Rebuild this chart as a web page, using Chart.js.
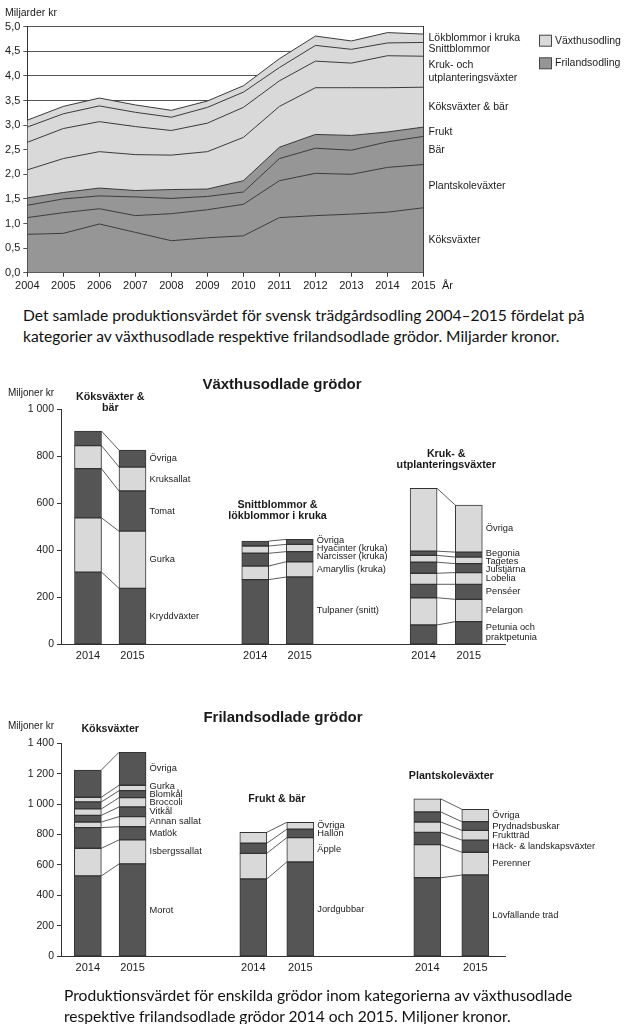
<!DOCTYPE html>
<html>
<head>
<meta charset="utf-8">
<title>Trädgårdsodling</title>
<script src="https://cdn.jsdelivr.net/npm/chart.js@4.4.0/dist/chart.umd.min.js"></script>
<style>
body { margin: 0; background: #fff; width: 627px; height: 1024px; position: relative; overflow: hidden; }
canvas { position: absolute; left: 0; }
.caption { position: absolute; margin: 0; font-family: Lato, 'Open Sans', sans-serif; font-size: 15.6px; line-height: 21px; color: #111; white-space: nowrap; }
</style>
</head>
<body>
<canvas id="areaChart" width="627" height="300" style="top:0"></canvas>
<p class="caption" style="left:23px;top:305px">Det samlade produktionsvärdet för svensk trädgårdsodling 2004–2015 fördelat på<br>kategorier av växthusodlade respektive frilandsodlade grödor. Miljarder kronor.</p>

<canvas id="vAxis" width="627" height="300" style="top:370px"></canvas>
<canvas id="vKoks" width="627" height="300" style="top:370px"></canvas>
<canvas id="vSnitt" width="627" height="300" style="top:370px"></canvas>
<canvas id="vKruk" width="627" height="300" style="top:370px"></canvas>

<canvas id="fAxis" width="627" height="280" style="top:700px"></canvas>
<canvas id="fKoks" width="627" height="280" style="top:700px"></canvas>
<canvas id="fFrukt" width="627" height="280" style="top:700px"></canvas>
<canvas id="fPlant" width="627" height="280" style="top:700px"></canvas>
<p class="caption" style="left:64px;top:985px">Produktionsvärdet för enskilda grödor inom kategorierna av växthusodlade<br>respektive frilandsodlade grödor 2014 och 2015. Miljoner kronor.</p>

<script>
// --- tidsserie 2004-2015, miljarder kr (varje kategori för sig, staplas i diagrammet)
var years = ['2004', '2005', '2006', '2007', '2008', '2009', '2010', '2011', '2012', '2013', '2014', '2015'];
var koksvaxterFriland = [0.78, 0.80, 0.99, 0.82, 0.65, 0.71, 0.75, 1.12, 1.16, 1.19, 1.23, 1.32];
var plantskolevaxter = [0.34, 0.42, 0.31, 0.34, 0.55, 0.57, 0.64, 0.75, 0.86, 0.81, 0.91, 0.88];
var barFriland = [0.25, 0.28, 0.26, 0.38, 0.31, 0.27, 0.25, 0.45, 0.51, 0.49, 0.52, 0.57];
var fruktFriland = [0.15, 0.13, 0.16, 0.13, 0.18, 0.15, 0.23, 0.23, 0.28, 0.30, 0.20, 0.19];
var koksvaxterBar = [0.57, 0.69, 0.74, 0.73, 0.70, 0.76, 0.88, 0.83, 0.95, 0.97, 0.90, 0.81];
var krukUtplantering = [0.56, 0.61, 0.61, 0.57, 0.50, 0.58, 0.61, 0.52, 0.54, 0.50, 0.65, 0.63];
var snittblommor = [0.31, 0.30, 0.32, 0.29, 0.27, 0.32, 0.31, 0.27, 0.32, 0.28, 0.26, 0.28];
var lokblommorKruka = [0.14, 0.15, 0.16, 0.15, 0.14, 0.13, 0.13, 0.18, 0.19, 0.17, 0.21, 0.17];
var yTicksMiljarder = [0, 0.5, 1, 1.5, 2, 2.5, 3, 3.5, 4, 4.5, 5];

// --- enskilda grödor 2014 och 2015, miljoner kr (nerifrån och upp)
var barYears = ['2014', '2015'];
var vKoksNames = ['Kryddväxter', 'Gurka', 'Tomat', 'Kruksallat', 'Övriga'];
var vKoks2014 = [306, 231, 209, 98, 62];
var vKoks2015 = [237, 243, 171, 102, 72];
var vSnittNames = ['Tulpaner (snitt)', 'Amaryllis (kruka)', 'Narcisser (kruka)', 'Hyacinter (kruka)', 'Övriga'];
var vSnitt2014 = [274, 58, 54, 31, 21];
var vSnitt2015 = [285, 65, 43, 31, 21];
var vKrukNames = [['Petunia och', 'praktpetunia'], 'Pelargon', 'Penséer', 'Lobelia', 'Julstjärna', 'Tagetes', 'Begonia', 'Övriga'];
var vKruk2014 = [81, 116, 57, 47, 47, 29, 18, 267];
var vKruk2015 = [95, 95, 64, 50, 38, 28, 21, 200];
var fKoksNames = ['Morot', 'Isbergssallat', 'Matlök', 'Annan sallat', 'Vitkål', 'Broccoli', 'Blomkål', 'Gurka', 'Övriga'];
var fKoks2014 = [527, 182, 136, 37, 44, 42, 46, 31, 179];
var fKoks2015 = [606, 158, 87, 66, 64, 61, 46, 36, 217];
var fFruktNames = ['Jordgubbar', 'Äpple', 'Hallon', 'Övriga'];
var fFrukt2014 = [507, 169, 66, 72];
var fFrukt2015 = [619, 160, 55, 46];
var fPlantNames = ['Lövfällande träd', 'Perenner', 'Häck- & landskapsväxter', 'Fruktträd', 'Prydnadsbuskar', 'Övriga'];
var fPlant2014 = [515, 218, 81, 68, 66, 86];
var fPlant2015 = [533, 150, 80, 64, 57, 82];

var DARK = '#555555', LIGHT = '#d9d9d9', MID = '#969696', EDGE = '#333333', TEXT = '#1a1a1a';
var FONT = "'Liberation Sans', Arial, sans-serif";

Chart.defaults.font.family = FONT;
Chart.defaults.color = TEXT;
Chart.defaults.animation = false;

function thousands(v) {
    return String(v).replace(/\B(?=(\d{3})+(?!\d))/g, ' ');
}

// skjuter isär etiketter som överlappar (items sorterade uppifrån)
function spread(items) {
    for (var k = 0; k < 80; k++) {
        var moved = false;
        for (var i = 0; i < items.length - 1; i++) {
            var a = items[i], b = items[i + 1];
            var need = (a.h + b.h) / 2;
            var d = b.y - a.y;
            if (d < need - 0.01) {
                var s = (need - d) / 2;
                a.y -= s;
                b.y += s;
                moved = true;
            }
        }
        if (!moved) break;
    }
}

function drawLabels(ctx, items, font, lineH) {
    ctx.font = font;
    ctx.fillStyle = TEXT;
    ctx.textAlign = 'left';
    ctx.textBaseline = 'middle';
    items.forEach(function (it) {
        var y0 = it.y - (it.lines.length - 1) * lineH / 2;
        it.lines.forEach(function (t, j) {
            ctx.fillText(t, it.x, y0 + j * lineH);
        });
    });
}

// fria texter (titlar, enheter)
var textPlugin = {
    id: 'freeText',
    afterDraw: function (chart, args, opts) {
        var ctx = chart.ctx;
        ctx.save();
        (opts.items || []).forEach(function (t) {
            ctx.font = t.font;
            ctx.fillStyle = TEXT;
            ctx.textAlign = t.align || 'left';
            ctx.textBaseline = 'middle';
            ctx.fillText(t.text, t.x, t.y);
        });
        ctx.restore();
    }
};

// etiketter + förklaring i ytdiagrammet
var areaPlugin = {
    id: 'areaDecor',
    afterDatasetsDraw: function (chart, args, opts) {
        var ctx = chart.ctx;
        var yScale = chart.scales.y;
        var last = years.length - 1;
        var items = [];
        chart.data.datasets.forEach(function (ds, i) {
            var p = chart.getDatasetMeta(i).data[last];
            var below = i === 0 ? yScale.getPixelForValue(0) : chart.getDatasetMeta(i - 1).data[last].y;
            var lines = ds.lines;
            items.push({ x: chart.chartArea.right + 5, y: (p.y + below) / 2, lines: lines, h: 11.5 + (lines.length - 1) * 12.3 });
        });
        items.reverse();
        spread(items);
        ctx.save();
        drawLabels(ctx, items, '10.5px ' + FONT, 12.3);
        opts.legend.forEach(function (l, i) {
            var y = 40.7 + i * 22.6;
            ctx.fillStyle = l.color;
            ctx.fillRect(539.5, y - 5.5, 12, 11);
            ctx.strokeStyle = '#444';
            ctx.lineWidth = 1;
            ctx.strokeRect(539.5, y - 5.5, 12, 11);
            ctx.fillStyle = TEXT;
            ctx.font = '10.5px ' + FONT;
            ctx.textBaseline = 'middle';
            ctx.fillText(l.text, 555, y);
        });
        ctx.restore();
    }
};

// förbindelselinjer, etiketter och rubrik för en stapelgrupp
var groupPlugin = {
    id: 'groupDecor',
    afterDatasetsDraw: function (chart, args, opts) {
        var ctx = chart.ctx;
        var metas = chart.data.datasets.map(function (d, i) { return chart.getDatasetMeta(i); });
        ctx.save();
        ctx.strokeStyle = EDGE;
        ctx.lineWidth = 0.8;
        metas.forEach(function (m) {
            var b0 = m.data[0], b1 = m.data[1];
            ctx.beginPath();
            ctx.moveTo(b0.x + b0.width / 2, b0.y);
            ctx.lineTo(b1.x - b1.width / 2, b1.y);
            ctx.stroke();
        });
        var items = metas.map(function (m, i) {
            var b = m.data[1];
            var lines = chart.data.datasets[i].lines;
            return { x: b.x + b.width / 2 + 3.5, y: (b.y + b.base) / 2, lines: lines, h: 8 + (lines.length - 1) * 10 };
        }).reverse();
        spread(items);
        drawLabels(ctx, items, '9.3px ' + FONT, 10);

        var topMeta = metas[metas.length - 1];
        var top = Math.min(topMeta.data[0].y, topMeta.data[1].y);
        var cx = (chart.chartArea.left + chart.chartArea.right) / 2;
        ctx.font = 'bold 10.7px ' + FONT;
        ctx.fillStyle = TEXT;
        ctx.textAlign = 'center';
        ctx.textBaseline = 'middle';
        var n = opts.title.length;
        opts.title.forEach(function (t, j) {
            ctx.fillText(t, cx, top - 23 - (n - 1 - j) * 11);
        });
        ctx.restore();
    }
};

function load_area_chart() {
    var series = [
        { lines: ['Köksväxter'], data: koksvaxterFriland, color: MID },
        { lines: ['Plantskoleväxter'], data: plantskolevaxter, color: MID },
        { lines: ['Bär'], data: barFriland, color: MID },
        { lines: ['Frukt'], data: fruktFriland, color: MID },
        { lines: ['Köksväxter & bär'], data: koksvaxterBar, color: LIGHT },
        { lines: ['Kruk- och', 'utplanteringsväxter'], data: krukUtplantering, color: LIGHT },
        { lines: ['Snittblommor'], data: snittblommor, color: LIGHT },
        { lines: ['Lökblommor i kruka'], data: lokblommorKruka, color: LIGHT }
    ];
    new Chart(document.getElementById('areaChart'), {
        type: 'line',
        data: {
            labels: years,
            datasets: series.map(function (s, i) {
                return {
                    label: s.lines.join(' '),
                    lines: s.lines,
                    data: s.data,
                    fill: i === 0 ? 'origin' : '-1',
                    backgroundColor: s.color,
                    borderColor: '#3a3a3a',
                    borderWidth: 1,
                    pointRadius: 0,
                    tension: 0
                };
            })
        },
        options: {
            responsive: false,
            layout: { padding: { top: 26.7, right: 203.5, bottom: 5.3, left: 0 } },
            plugins: {
                legend: { display: false },
                tooltip: { enabled: false },
                areaDecor: { legend: [{ text: 'Växthusodling', color: LIGHT }, { text: 'Frilandsodling', color: MID }] },
                freeText: {
                    items: [
                        { text: 'Miljarder kr', x: 5, y: 13, font: '10.5px ' + FONT },
                        { text: 'År', x: 442, y: 286, font: '11px ' + FONT }
                    ]
                }
            },
            scales: {
                x: {
                    offset: false,
                    grid: { drawOnChartArea: false, tickLength: 4, color: EDGE },
                    border: { color: EDGE },
                    ticks: { font: { size: 11 }, padding: 2.5, maxRotation: 0, autoSkip: false },
                    afterFit: function (s) { s.height = 22; }
                },
                y: {
                    stacked: true,
                    min: 0,
                    max: 5,
                    afterBuildTicks: function (s) { s.ticks = yTicksMiljarder.map(function (v) { return { value: v }; }); },
                    ticks: { font: { size: 11 }, padding: 3, callback: function (v) { return v.toFixed(1).replace('.', ','); } },
                    grid: { color: '#555', tickLength: 4 },
                    border: { color: EDGE },
                    afterFit: function (s) { s.width = 27.3; }
                },
                yRight: {
                    position: 'right',
                    min: 0,
                    max: 5,
                    ticks: { display: false },
                    grid: { display: false, drawTicks: false },
                    border: { color: EDGE },
                    afterFit: function (s) { s.width = 0; }
                }
            }
        },
        plugins: [areaPlugin, textPlugin]
    });
}

function axis_chart(id, yMax, padTop, padBottom, texts) {
    new Chart(document.getElementById(id), {
        type: 'bar',
        data: { labels: [''], datasets: [] },
        options: {
            responsive: false,
            layout: { padding: { top: padTop, right: 122, bottom: padBottom, left: 0 } },
            plugins: { legend: { display: false }, tooltip: { enabled: false }, freeText: { items: texts } },
            scales: {
                x: {
                    ticks: { display: false },
                    grid: { display: false },
                    border: { color: EDGE },
                    afterFit: function (s) { s.height = 20; }
                },
                y: {
                    min: 0,
                    max: yMax,
                    ticks: { stepSize: 200, font: { size: 10.5 }, padding: 3, callback: thousands },
                    grid: { drawOnChartArea: false, tickLength: 4, color: EDGE },
                    border: { color: EDGE },
                    afterFit: function (s) { s.width = 61; }
                }
            }
        },
        plugins: [textPlugin]
    });
}

function group_chart(id, names, v2014, v2015, yMax, padTop, padBottom, left, width, title) {
    new Chart(document.getElementById(id), {
        type: 'bar',
        data: {
            labels: barYears,
            datasets: names.map(function (n, i) {
                var lines = [].concat(n);
                return {
                    label: lines.join(' '),
                    lines: lines,
                    data: [v2014[i], v2015[i]],
                    backgroundColor: i % 2 === 0 ? DARK : LIGHT,
                    borderColor: EDGE,
                    borderWidth: 1,
                    borderSkipped: false,
                    barThickness: 27
                };
            })
        },
        options: {
            responsive: false,
            layout: { padding: { top: padTop, bottom: padBottom, left: left, right: 627 - left - width } },
            plugins: { legend: { display: false }, tooltip: { enabled: false }, groupDecor: { title: title } },
            scales: {
                x: {
                    stacked: true,
                    grid: { display: false, drawTicks: false },
                    border: { display: false },
                    ticks: { font: { size: 11 }, padding: 5 },
                    afterFit: function (s) { s.height = 20; }
                },
                y: { stacked: true, display: false, min: 0, max: yMax }
            }
        },
        plugins: [groupPlugin]
    });
}

window.onload = function () {
    load_area_chart();

    axis_chart('vAxis', 1000, 39, 6, [
        { text: 'Växthusodlade grödor', x: 282, y: 15, font: 'bold 15px ' + FONT, align: 'center' },
        { text: 'Miljoner kr', x: 8, y: 23, font: '10px ' + FONT }
    ]);
    group_chart('vKoks', vKoksNames, vKoks2014, vKoks2015, 1000, 39, 6, 65.75, 89, ['Köksväxter &', 'bär']);
    group_chart('vSnitt', vSnittNames, vSnitt2014, vSnitt2015, 1000, 39, 6, 233, 89, ['Snittblommor &', 'lökblommor i kruka']);
    group_chart('vKruk', vKrukNames, vKruk2014, vKruk2015, 1000, 39, 6, 401, 90.4, ['Kruk- &', 'utplanteringsväxter']);

    axis_chart('fAxis', 1400, 43.3, 4, [
        { text: 'Frilandsodlade grödor', x: 283, y: 18, font: 'bold 15px ' + FONT, align: 'center' },
        { text: 'Miljoner kr', x: 8, y: 26, font: '10px ' + FONT }
    ]);
    group_chart('fKoks', fKoksNames, fKoks2014, fKoks2015, 1400, 43.3, 4, 65.5, 89.4, ['Köksväxter']);
    group_chart('fFrukt', fFruktNames, fFrukt2014, fFrukt2015, 1400, 43.3, 4, 229.8, 94, ['Frukt & bär']);
    group_chart('fPlant', fPlantNames, fPlant2014, fPlant2015, 1400, 43.3, 4, 403.3, 96, ['Plantskoleväxter']);
};
</script>
</body>
</html>
